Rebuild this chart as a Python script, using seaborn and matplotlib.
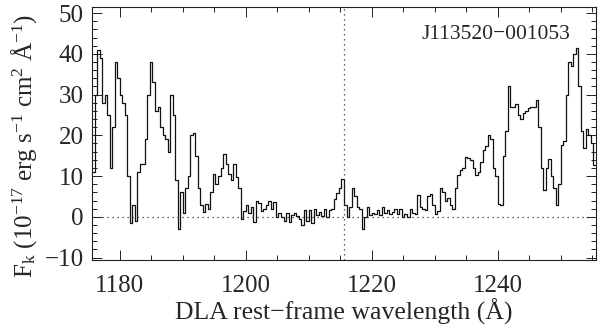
import numpy as np
import pandas as pd
import matplotlib
matplotlib.use("Agg")
import matplotlib.pyplot as plt
import seaborn as sns
from matplotlib.ticker import MultipleLocator

# ---------------- data ----------------
wave_start = 1175.8   # centre of first pixel (Angstrom)
wave_step = 0.4       # pixel width (Angstrom)

flux_seg1 = [11, 30, 41, 39, 28, 30, 25, 12, 22, 38, 34, 30, 28, 25, 10, -1.5, 2.8, -1, 11, 13,
             13, 19, 30, 38, 33, 26, 27, 22, 20, 19, 16, 30, 25, 9]
flux_seg2 = [-3, 6, 1, 7, 10, 20, 20.5, 15, 7, 3, 1.2, 3.2, 2, 6, 10.6, 8, 10, 12, 15.5, 13,
             10.5, 9, 13, 9.8, 7, -0.5, 1.5, 3, 1, 2.5, -1.3, 4, 3.5]
flux_seg3 = [1.5, 2, 3, 4, 2, 3.6, 0, 1, 0, -1, 1, -1.3, 0.5, 1, 0.3, -0.5, -2, 1.6, -1, 1.6,
             -1.5, 2, 0.5, 1.2, 0.3, 2, 0, 1.6, 2, 4.4, 5.8, 7, 9.4]
flux_seg4 = [3, 0, 2.4, 7, 5, 2.5, 2, -3, 0, 2.4, 0.5, 1, 0.8, 1.6, 0.5, 2.4, 1, 1.6, 0.8, 1.2,
             2, 0.7, 2, 0, 0.8, 0, 2, 1, 0.8, 5.3, 2.4, 2, 1.6, 5]
flux_seg5 = [5.7, 3, 0.7, 1.5, 7, 6, 4, 4.5, 3, 2, 7, 10.2, 11.5, 12, 14.7, 14.4, 14, 12, 10.3, 11,
             13.5, 16.5, 17.5, 20, 19, 12, 10, 3.2, 3, 15, 21, 32, 27]
flux_seg6 = [27, 27.6, 25, 24, 25.5, 26, 26.6, 27, 27, 28.7, 22, 12, 6.5, 12, 14.3, 10, 7, 3, 8, 17.7,
             18.5, 30, 38, 37, 40, 41.5, 32, 21, 17, 21.5, 20, 18, 12.6]

flux = flux_seg1 + flux_seg2 + flux_seg3 + flux_seg4 + flux_seg5 + flux_seg6
wave = wave_start + wave_step * np.arange(len(flux))

lya_wave = 1215.67
object_name = "J113520\u2212001053"
xlabel = "DLA rest\u2212frame wavelength (\u00c5)"
ylabel = r"F$_{\mathrm{k}}$ (10$^{-17}$ erg s$^{-1}$ cm$^{2}$ $\mathrm{\AA}^{-1}$)"
xticks = [1180, 1200, 1220, 1240]
yticks = [-10, 0, 10, 20, 30, 40, 50]

# ---------------- style ----------------
sns.set_style("ticks")
plt.rcParams["font.family"] = ["Liberation Serif", "DejaVu Serif"]
plt.rcParams["mathtext.fontset"] = "custom"
plt.rcParams["mathtext.rm"] = "Liberation Serif"
plt.rcParams["mathtext.it"] = "Liberation Serif:italic"
plt.rcParams["axes.unicode_minus"] = True

fig = plt.figure(figsize=(6.0, 3.26), dpi=100)
ax = fig.add_axes([92 / 600, 1 - 260 / 326, (596 - 92) / 600, (260 - 7) / 326])

df = pd.DataFrame({"wave": wave, "flux": flux})
sns.lineplot(data=df, x="wave", y="flux", ax=ax, color="#111111", lw=0.9,
             drawstyle="steps-mid", estimator=None)

ax.axhline(0, ls=(0, (1, 3)), color="#333333", lw=0.9)
ax.axvline(lya_wave, ls=(0, (1, 3)), color="#333333", lw=0.9)

ax.set_xlim(1175.6, 1255.6)
ax.set_ylim(-10.6, 51.5)
ax.set_xticks(xticks)
ax.set_yticks(yticks)
ax.xaxis.set_minor_locator(MultipleLocator(5))
ax.yaxis.set_minor_locator(MultipleLocator(2))
ax.tick_params(which="both", direction="in", top=True, right=True, labelsize=18,
               width=0.7, color="#222222")
ax.tick_params(which="major", length=7)
ax.tick_params(which="minor", length=3.5)
ax.tick_params(axis="x", which="major", pad=11)
ax.tick_params(axis="y", which="major", pad=6)
for s in ax.spines.values():
    s.set_linewidth(0.8)
    s.set_color("#222222")

ax.set_xlabel(xlabel, fontsize=18.5, labelpad=1)
ax.set_ylabel(ylabel, fontsize=18)
ax.yaxis.set_label_coords(-0.105, 0.45)

ax.text(0.653, 0.893, object_name, transform=ax.transAxes, fontsize=15.5,
        ha="left", va="center")

fig.savefig("out.png", dpi=100)
